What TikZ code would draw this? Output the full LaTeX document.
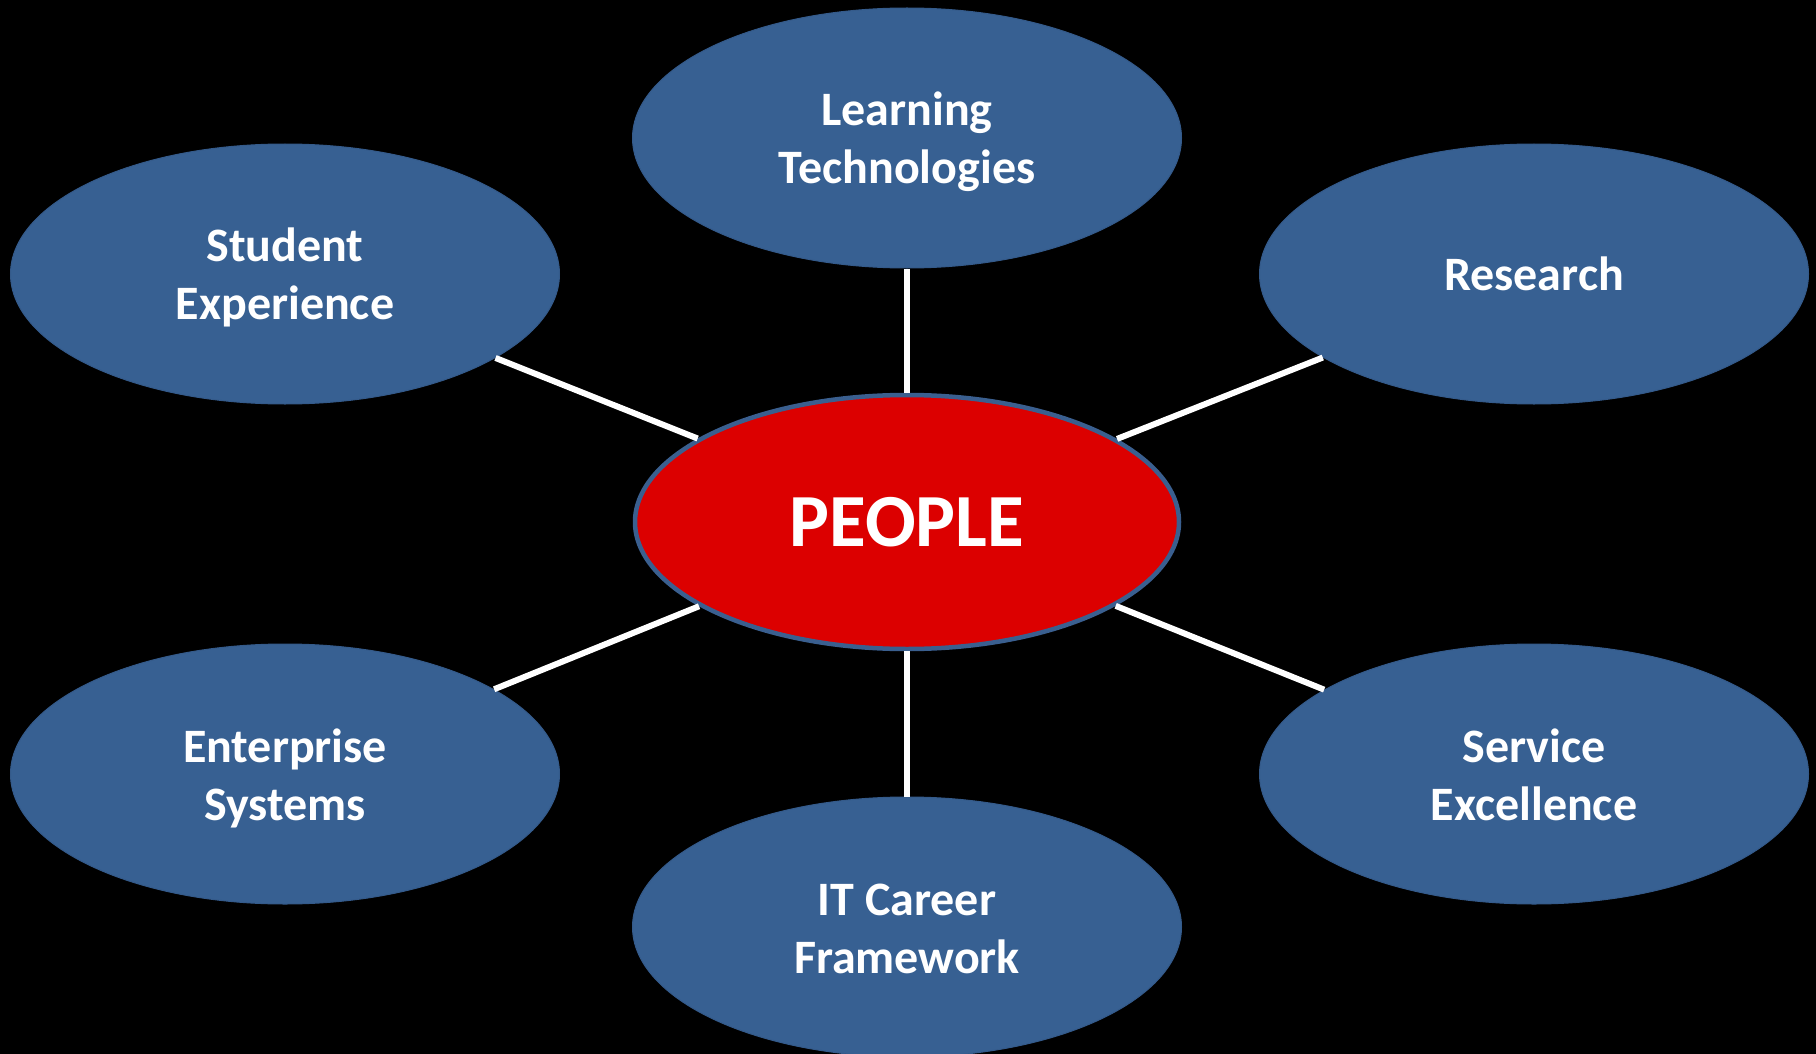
\documentclass[tikz,border=0pt]{standalone}
\usepackage{fontspec}
\setmainfont{Carlito}
\usetikzlibrary{shapes.geometric}
\definecolor{topicblue}{RGB}{55,96,146}
\definecolor{topicedge}{RGB}{52,90,138}
\definecolor{corered}{RGB}{220,0,0}
\definecolor{coreedge}{RGB}{58,95,143}
\begin{document}
\begin{tikzpicture}[x=1pt,y=-1pt,
  topic/.style={ellipse, fill=topicblue, draw=topicedge, line width=1pt,
    minimum width=549pt, minimum height=260pt, inner sep=0pt,
    text=white, align=center,
    font=\fontsize{48}{58}\selectfont\bfseries},
  % an invisible rule, measured from the last baseline, lifts the top of
  % the caption box so that two-line captions sit a little lower
  twoline/.style={execute at begin node=\rule{0pt}{#1}},
  twoline/.default=100pt,
  core/.style={ellipse, fill=corered, draw=coreedge, line width=4.5pt,
    minimum width=544pt, minimum height=254pt, inner sep=0pt,
    text=white, font=\fontsize{75}{90}\selectfont\bfseries},
  spoke/.style={draw=white, line width=6pt}]
\useasboundingbox (0,0) rectangle (1816,1054);
\fill[black] (0,0) rectangle (1816,1054);
\clip (0,0) rectangle (1816,1054);

% hub and the six topic areas
\node[core]  (people)  at (907,522) {PEOPLE};
\node[topic,twoline] (learn)   at (907,138) {Learning\\Technologies};
\node[topic,twoline=98pt] (student) at (285,274) {Student\\Experience};
\node[topic] (research) at (1534,274) {Research};
\node[topic,twoline] (enterprise) at (285,774) {Enterprise\\Systems};
\node[topic,twoline=93pt] (service) at (1534,774) {Service\\Excellence};
\node[topic,twoline=93pt] (career)  at (907,927) {IT Career\\Framework};

% spokes from the hub
\draw[spoke] (people) -- (learn);
\draw[spoke] (people) -- (student);
\draw[spoke] (people) -- (research);
\draw[spoke] (people) -- (enterprise);
\draw[spoke] (people) -- (service);
\draw[spoke] (people) -- (career);
\end{tikzpicture}
\end{document}
